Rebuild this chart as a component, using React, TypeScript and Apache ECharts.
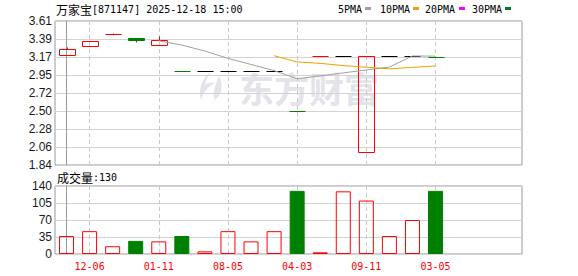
import React, { useEffect, useRef } from 'react';
import * as echarts from 'echarts';

// ---- data ----
const xLabelIndices = [1, 4, 7, 10, 13, 16];
const xLabels = ['12-06', '01-11', '08-05', '04-03', '09-11', '03-05'];

const opens = [3.19, 3.3, 3.45, 3.4, 3.31, 3.0, 3.0, 3.0, 3.0, 3.0, 2.5, 3.18, 3.18, 2.0, 3.18, 3.18, 3.17];
const closes = [3.262, 3.364, 3.45, 3.38, 3.376, 3.0, 3.0, 3.0, 3.0, 3.0, 2.5, 3.18, 3.18, 3.18, 3.18, 3.18, 3.17];
const lows = [3.19, 3.3, 3.45, 3.348, 3.31, 3.0, 3.0, 3.0, 3.0, 3.0, 2.5, 3.18, 3.18, 2.0, 3.18, 3.18, 3.17];
const highs = [3.29, 3.364, 3.465, 3.4, 3.426, 3.0, 3.0, 3.0, 3.0, 3.0, 2.5, 3.18, 3.18, 3.18, 3.18, 3.18, 3.17];
// up = red hollow, down = green, flat = black
const kinds = ['up', 'up', 'up', 'down', 'up', 'down', 'flat', 'flat', 'flat', 'flat', 'down', 'up', 'flat', 'up', 'flat', 'flat', 'down'];
const volumes = [37, 47, 16, 27, 26, 37, 5.5, 47, 26, 47, 130, 3.5, 129, 110, 37, 70, 130];

const ma5 = [null, null, null, null, 3.367, 3.314, 3.241, 3.151, 3.076, 3.0, 2.9, 2.936, 2.972, 3.008, 3.044, 3.18, 3.178];
const ma10 = [null, null, null, null, null, null, null, null, null, 3.183, 3.107, 3.089, 3.062, 3.042, 3.022, 3.04, 3.057];

const priceTickLabels = ['1.84', '2.06', '2.28', '2.50', '2.72', '2.95', '3.17', '3.39', '3.61'];
const volumeTickLabels = ['0', '35', '70', '105', '140'];

const legendNames = ['5PMA', '10PMA', '20PMA', '30PMA'];
const legendColors = ['#a0a0a0', '#f0a000', '#ff00ff', '#007a30'];

const titleName = '万家宝';
const titleCode = '[871147] 2025-12-18 15:00';

const RED = '#ff0000';
const GREEN = '#008000';

const logoD =
  'M13 0 C4 6 0 16 3 28 C5 21 9 15 17 11 C13 10 9 11 7 13 C8 8 10 4 13 0 Z M21 4 C25 12 25 22 17 28 C14 23 16 16 21 4 Z';
try {
  echarts.graphic.registerShape('emLogo', echarts.graphic.extendPath(logoD, {}) as any);
} catch (e) {
  /* ignore */
}

const kindBorder: Record<string, string> = { up: RED, down: GREEN, flat: '#000000' };
const kindFill: Record<string, string> = { up: 'none', down: GREEN, flat: 'none' };

function volStyle(kind: string) {
  return kind === 'down'
    ? { color: GREEN, borderColor: GREEN, borderWidth: 1 }
    : { color: 'rgba(255,255,255,0)', borderColor: RED, borderWidth: 1 };
}

export default function App() {
  const ref = useRef<HTMLDivElement>(null);
  useEffect(() => {
    if (!ref.current) return;
    const chart = echarts.init(ref.current, undefined, { renderer: 'svg' });

    const pMin = Number(priceTickLabels[0]);
    const pMax = Number(priceTickLabels[priceTickLabels.length - 1]);
    const pInt = (pMax - pMin) / (priceTickLabels.length - 1);
    const vMax = Number(volumeTickLabels[volumeTickLabels.length - 1]);
    const vInt = vMax / (volumeTickLabels.length - 1);

    const xCommon = {
      type: 'value' as const,
      min: -0.5,
      max: 19.75,
      axisLine: { show: false },
      axisTick: { show: false, customValues: xLabelIndices },
      splitLine: { show: true, lineStyle: { color: '#c8c8c8', type: [4, 3], width: 1 } },
    };

    const legendX = [338, 380, 425, 472];
    const legendMarkX = [365, 413, 459, 505];
    const graphics: any[] = [
      {
        type: 'emLogo',
        x: 198,
        y: 72,
        z: 0,
        silent: true,
        style: { fill: '#e3e3e9' },
      },
      {
        type: 'text',
        x: 239,
        y: 87,
        z: 0,
        silent: true,
        style: {
          text: '东方财富',
          fill: '#e3e3e9',
          fontSize: 35,
          fontWeight: 'bold',
          fontFamily: 'Noto Sans CJK SC',
          verticalAlign: 'middle',
        },
      },
      {
        type: 'text',
        x: 56,
        y: 9,
        style: {
          text: `{a|${titleName}}{b|${titleCode}}`,
          verticalAlign: 'middle',
          fill: '#000',
          rich: {
            a: { fontSize: 12, fontFamily: 'Noto Sans CJK SC', fill: '#000' },
            b: { fontSize: 10, fontFamily: 'DejaVu Sans Mono', fill: '#000' },
          },
        },
      },
      {
        type: 'text',
        x: 57,
        y: 177,
        style: {
          text: `{a|成交量}{b|:${volumes[volumes.length - 1]}}`,
          verticalAlign: 'middle',
          fill: '#000',
          rich: {
            a: { fontSize: 12, fontFamily: 'Noto Sans CJK SC', fill: '#000' },
            b: { fontSize: 10, fontFamily: 'DejaVu Sans Mono', fill: '#000' },
          },
        },
      },
    ];
    legendNames.forEach((n, i) => {
      graphics.push({
        type: 'text',
        x: legendX[i],
        y: 9,
        style: { text: n, fontSize: 10, fontFamily: 'DejaVu Sans Mono', fill: '#000', verticalAlign: 'middle' },
      });
      graphics.push({
        type: 'rect',
        shape: { x: legendMarkX[i], y: 7, width: 6, height: 3 },
        style: { fill: legendColors[i] },
      });
    });

    const maData = (arr: (number | null)[]) =>
      arr.map((v, i) => (v == null ? null : [i, v])).filter((d) => d != null);

    const candleHalf = 7.5;
    const renderCandle = (params: any, api: any) => {
      const di = params.dataIndex;
      const k = kinds[di];
      const stroke = kindBorder[k];
      const fill = kindFill[k];
      const x = api.value(0);
      const pO = api.coord([x, api.value(1)]);
      const pC = api.coord([x, api.value(2)]);
      const pL = api.coord([x, api.value(3)]);
      const pH = api.coord([x, api.value(4)]);
      const cx = Math.round(pO[0]);
      const top = Math.round(Math.min(pO[1], pC[1])) + 0.5;
      const bot = Math.round(Math.max(pO[1], pC[1])) + 0.5;
      const hi = Math.round(pH[1]) + 0.5;
      const lo = Math.round(pL[1]) + 0.5;
      const wx = cx + 0.5;
      const children: any[] = [];
      if (hi < top) {
        children.push({ type: 'line', shape: { x1: wx, y1: hi, x2: wx, y2: top }, style: { stroke, fill: 'none', lineWidth: 1 } });
      }
      if (lo > bot) {
        children.push({ type: 'line', shape: { x1: wx, y1: bot, x2: wx, y2: lo }, style: { stroke, fill: 'none', lineWidth: 1 } });
      }
      if (bot - top < 1) {
        children.push({
          type: 'rect',
          shape: { x: cx - candleHalf, y: top - 0.5, width: candleHalf * 2 + 1, height: 1 },
          style: { fill: stroke, stroke: 'none' },
        });
      } else {
        children.push({
          type: 'rect',
          shape: { x: cx - candleHalf, y: top, width: candleHalf * 2 + 1, height: bot - top },
          style: { stroke, fill, lineWidth: 1 },
        });
      }
      return { type: 'group', children };
    };

    chart.setOption({
      animation: false,
      backgroundColor: '#ffffff',
      grid: [
        { left: 55, top: 21, width: 467, height: 144, show: true, borderColor: '#999', borderWidth: 1, backgroundColor: 'transparent' },
        { left: 55, top: 186, width: 467, height: 68, show: true, borderColor: '#999', borderWidth: 1, backgroundColor: 'transparent' },
      ],
      xAxis: [
        { ...xCommon, gridIndex: 0, axisLabel: { show: false, customValues: xLabelIndices } },
        {
          ...xCommon,
          gridIndex: 1,
          axisLabel: {
            show: true,
            customValues: xLabelIndices,
            formatter: (v: number) => xLabels[xLabelIndices.indexOf(Math.round(v))] ?? '',
            color: RED,
            fontSize: 10,
            fontFamily: 'DejaVu Sans Mono',
            margin: 7,
          },
        },
      ],
      yAxis: [
        {
          type: 'value',
          gridIndex: 0,
          min: pMin,
          max: pMax,
          interval: pInt,
          axisLine: { show: true, lineStyle: { color: '#999' } },
          axisTick: { show: false },
          splitLine: { show: true, lineStyle: { color: '#d3d3d3', width: 1 } },
          axisLabel: {
            formatter: (v: number) => priceTickLabels[Math.round((v - pMin) / pInt)] ?? '',
            color: '#1a1a1a',
            fontSize: 12,
            fontFamily: 'Liberation Sans',
            margin: 3,
          },
        },
        {
          type: 'value',
          gridIndex: 1,
          min: 0,
          max: vMax,
          interval: vInt,
          axisLine: { show: true, lineStyle: { color: '#999' } },
          axisTick: { show: false },
          splitLine: { show: true, lineStyle: { color: '#d3d3d3', width: 1 } },
          axisLabel: {
            formatter: (v: number) => volumeTickLabels[Math.round(v / vInt)] ?? '',
            color: '#1a1a1a',
            fontSize: 12,
            fontFamily: 'Liberation Sans',
            margin: 3,
          },
        },
      ],
      graphic: graphics,
      series: [
        {
          type: 'custom',
          xAxisIndex: 0,
          yAxisIndex: 0,
          renderItem: renderCandle,
          encode: { x: 0, y: [1, 2, 3, 4] },
          data: opens.map((o, i) => [i, o, closes[i], lows[i], highs[i]]),
          z: 2,
        },
        {
          type: 'line',
          xAxisIndex: 0,
          yAxisIndex: 0,
          data: maData(ma5),
          showSymbol: false,
          symbol: 'none',
          lineStyle: { color: legendColors[0], width: 1 },
          z: 3,
        },
        {
          type: 'line',
          xAxisIndex: 0,
          yAxisIndex: 0,
          data: maData(ma10),
          showSymbol: false,
          symbol: 'none',
          lineStyle: { color: legendColors[1], width: 1 },
          z: 3,
        },
        {
          type: 'bar',
          xAxisIndex: 1,
          yAxisIndex: 1,
          barWidth: 15,
          data: volumes.map((v, i) => ({ value: [i, v], itemStyle: volStyle(kinds[i]) })),
        },
      ],
    });
    return () => chart.dispose();
  }, []);
  return <div ref={ref} style={{ position: 'absolute', left: 0, top: 0, width: 578, height: 276 }} />;
}
